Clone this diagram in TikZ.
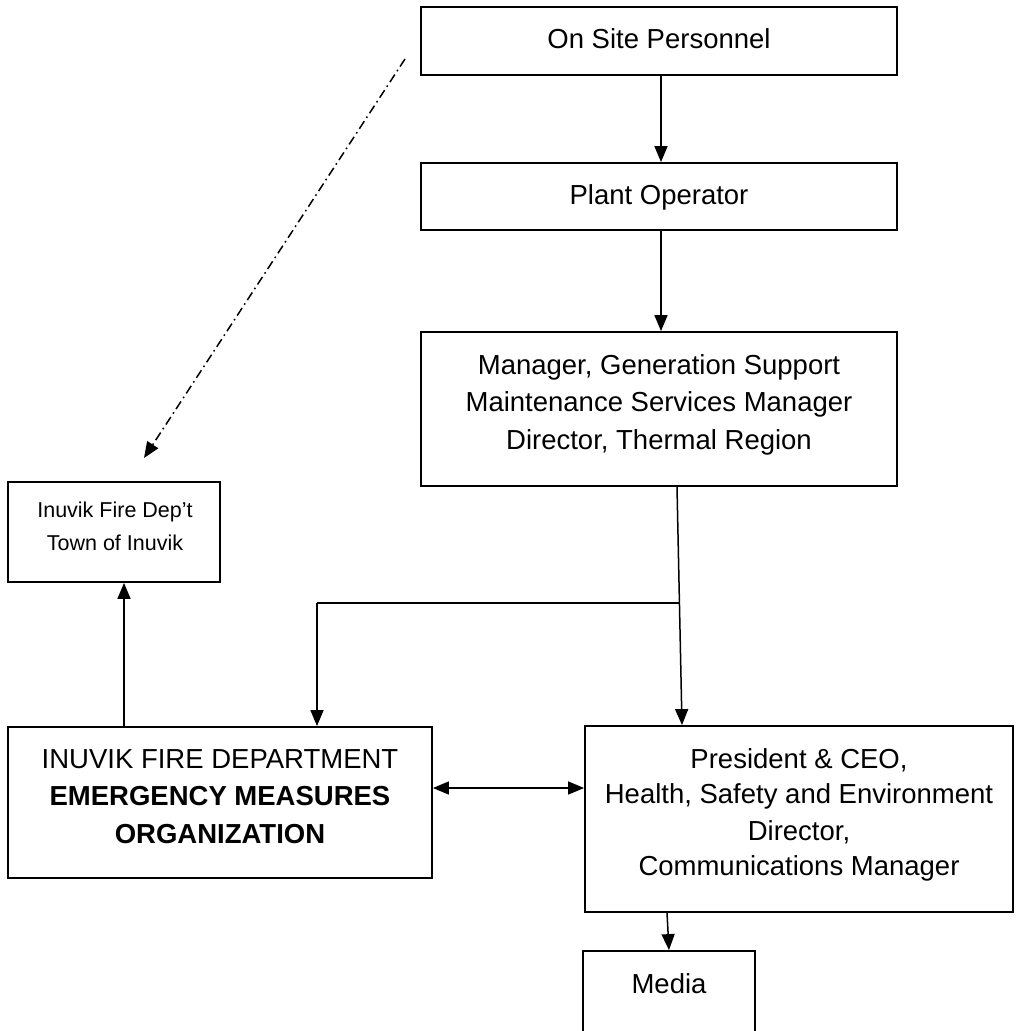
\documentclass[tikz,border=0pt]{standalone}
\usepackage{fontspec}
\setmainfont{Liberation Sans}
\usetikzlibrary{arrows.meta,calc}
\begin{document}
\begin{tikzpicture}[x=1pt,y=-1pt,
  box/.style={draw,line width=1.8pt,inner sep=0pt,minimum width=#1},
  txt/.style={anchor=base,inner sep=0pt,font=\fontsize{27.5}{33}\selectfont},
  smalltxt/.style={anchor=base,inner sep=0pt,font=\fontsize{21.5}{26}\selectfont},
  conn/.style={line width=1.5pt,-{Triangle[length=16pt,width=13pt]}},
  plain/.style={line width=1.5pt},
  dashdot/.style={line width=1.5pt,dash pattern=on 9pt off 4pt on 1.6pt off 4pt,-{Triangle[length=16pt,width=13pt]}}]
\useasboundingbox (0,0) rectangle (1015,1031);
\clip (0,0) rectangle (1015,1031);
% boxes
\node[box=476pt,minimum height=68pt] (onsite) at (659,41) {};
\node[box=476pt,minimum height=67pt] (plant) at (659,196.5) {};
\node[box=476pt,minimum height=154pt] (mgr) at (659,409) {};
\node[box=212pt,minimum height=100pt] (ifd) at (114,532) {};
\node[box=424pt,minimum height=151pt] (emo) at (220,802.5) {};
\node[box=428pt,minimum height=186pt] (pres) at (799,819) {};
\node[box=172pt,minimum height=94pt] (media) at (669,998) {};
% texts
\node[txt] (t1) at (659,48) {On Site Personnel};
\node[txt] (t2) at (659,204) {Plant Operator};
\node[txt] (t3a) at (659,374) {Manager, Generation Support};
\node[txt] (t3b) at (659,411) {Maintenance Services Manager};
\node[txt] (t3c) at (659,449) {Director, Thermal Region};
\node[smalltxt] (t4a) at (115,517) {Inuvik Fire Dep’t};
\node[smalltxt] (t4b) at (115,550) {Town of Inuvik};
\node[txt] (t5a) at (220,768) {INUVIK FIRE DEPARTMENT};
\node[txt,font=\fontsize{27.5}{33}\selectfont\bfseries] (t5b) at (220,805) {EMERGENCY MEASURES};
\node[txt,font=\fontsize{27.5}{33}\selectfont\bfseries] (t5c) at (220,843) {ORGANIZATION};
\node[txt] (t6a) at (799,768) {President \& CEO,};
\node[txt] (t6b) at (799,803) {Health, Safety and Environment};
\node[txt] (t6c) at (799,840) {Director,};
\node[txt] (t6d) at (799,875) {Communications Manager};
\node[txt] (t7) at (669,993) {Media};
% helper coordinates
\coordinate (xa) at (661,0);
\coordinate (xm1) at (677,0);
\coordinate (xp1) at (682,0);
\coordinate (junc) at (679,603);
\coordinate (xe) at (317,0);
\coordinate (xi) at (124,0);
\coordinate (xpm) at (667,0);
\coordinate (xmm) at (669,0);
\coordinate (ds) at (405,59);
\coordinate (de) at (144,458);
% connectors
\draw[conn] (onsite.south -| xa) -- (plant.north -| xa);
\draw[conn] (plant.south -| xa) -- (mgr.north -| xa);
\draw[conn] (mgr.south -| xm1) -- (pres.north -| xp1);
\draw[plain] (junc) -- (junc -| xe);
\draw[conn] (junc -| xe) -- (emo.north -| xe);
\draw[conn] (emo.north -| xi) -- (ifd.south -| xi);
\draw[line width=1.5pt,{Triangle[length=16pt,width=13pt]}-{Triangle[length=16pt,width=13pt]}] (emo.east |- 0,788) -- (pres.west |- 0,788);
\draw[conn] (pres.south -| xpm) -- (media.north -| xmm);
\draw[dashdot] (ds) -- (de);
\end{tikzpicture}
\end{document}
